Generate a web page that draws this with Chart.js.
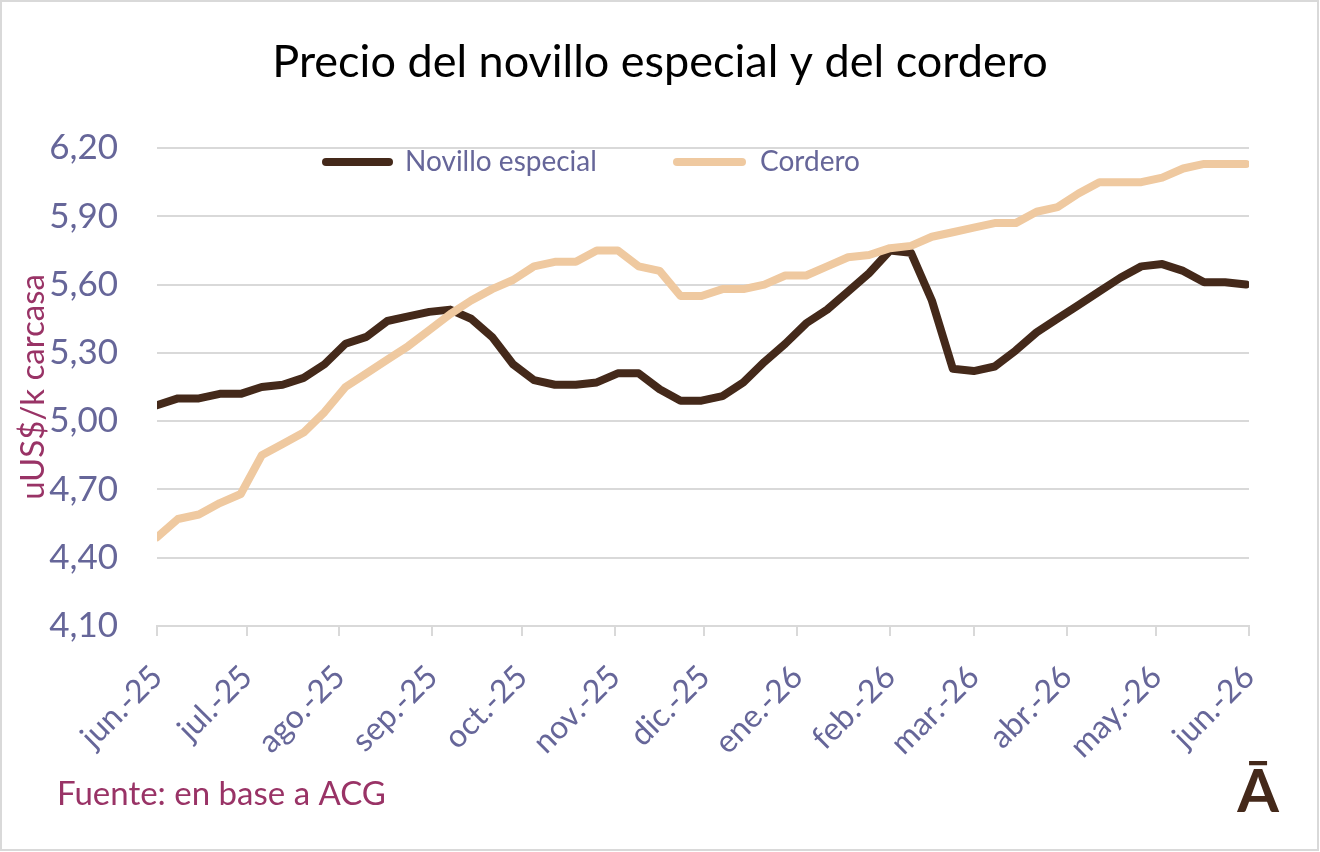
<!DOCTYPE html>
<html>
<head>
<meta charset="utf-8">
<script src="https://cdn.jsdelivr.net/npm/chart.js@4.4.1/dist/chart.umd.min.js"></script>
<style>
  html, body { margin: 0; padding: 0; background: #fff; }
  #wrap { width: 1320px; height: 852px; position: relative; }
</style>
</head>
<body>
<div id="wrap"><canvas id="myChart" width="1320" height="852"></canvas></div>
<script>
// semanas (fecha de cada dato)
const semanas = [
  '2025-06-01','2025-06-08','2025-06-15','2025-06-22','2025-06-29',
  '2025-07-06','2025-07-13','2025-07-20','2025-07-27',
  '2025-08-03','2025-08-10','2025-08-17','2025-08-24','2025-08-31',
  '2025-09-07','2025-09-14','2025-09-21','2025-09-28',
  '2025-10-05','2025-10-12','2025-10-19','2025-10-26',
  '2025-11-02','2025-11-09','2025-11-16','2025-11-23','2025-11-30',
  '2025-12-07','2025-12-14','2025-12-21','2025-12-28',
  '2026-01-04','2026-01-11','2026-01-18','2026-01-25',
  '2026-02-01','2026-02-08','2026-02-15','2026-02-22',
  '2026-03-01','2026-03-08','2026-03-15','2026-03-22','2026-03-29',
  '2026-04-05','2026-04-12','2026-04-19','2026-04-26',
  '2026-05-03','2026-05-10','2026-05-17','2026-05-24','2026-05-31'
];

const novillo = [
  5.07, 5.10, 5.10, 5.12, 5.12, 5.15, 5.16, 5.19, 5.25, 5.34,
  5.37, 5.44, 5.46, 5.48, 5.49, 5.45, 5.37, 5.25, 5.18, 5.16,
  5.16, 5.17, 5.21, 5.21, 5.14, 5.09, 5.09, 5.11, 5.17, 5.26,
  5.34, 5.43, 5.49, 5.57, 5.65, 5.75, 5.74, 5.53, 5.23, 5.22,
  5.24, 5.31, 5.39, 5.45, 5.51, 5.57, 5.63, 5.68, 5.69, 5.66,
  5.61, 5.61, 5.60
];

const cordero = [
  4.49, 4.57, 4.59, 4.64, 4.68, 4.85, 4.90, 4.95, 5.04, 5.15,
  5.21, 5.27, 5.33, 5.40, 5.47, 5.53, 5.58, 5.62, 5.68, 5.70,
  5.70, 5.75, 5.75, 5.68, 5.66, 5.55, 5.55, 5.58, 5.58, 5.60,
  5.64, 5.64, 5.68, 5.72, 5.73, 5.76, 5.77, 5.81, 5.83, 5.85,
  5.87, 5.87, 5.92, 5.94, 6.00, 6.05, 6.05, 6.05, 6.07, 6.11,
  6.13, 6.13, 6.13
];

// marcas del eje x (inicio de cada mes)
const meses = [
  '2025-06-01','2025-07-01','2025-08-01','2025-09-01','2025-10-01','2025-11-01',
  '2025-12-01','2026-01-01','2026-02-01','2026-03-01','2026-04-01','2026-05-01','2026-06-01'
];
const etiquetasMes = [
  'jun.-25','jul.-25','ago.-25','sep.-25','oct.-25','nov.-25',
  'dic.-25','ene.-26','feb.-26','mar.-26','abr.-26','may.-26','jun.-26'
];
const ticksY = [4.10, 4.40, 4.70, 5.00, 5.30, 5.60, 5.90, 6.20];

const inicio = Date.parse(meses[0]);
const dia = s => (Date.parse(s) - inicio) / 86400000;
const diasMes = meses.map(dia);

const FUENTE = "Lato, 'Open Sans', sans-serif";
const AZUL = '#666699';
const MAGENTA = '#993366';
const GRIS = '#D9D9D9';

const puntos = arr => arr.map((v, i) => ({ x: dia(semanas[i]), y: v }));

// titulo, leyenda dentro del area, fuente y logo
const extras = {
  id: 'extras',
  afterDraw(chart) {
    const c = chart.ctx;
    c.save();
    // titulo
    c.fillStyle = '#000';
    c.font = '45px ' + FUENTE;
    c.textAlign = 'center';
    c.textBaseline = 'middle';
    c.fillText('Precio del novillo especial y del cordero', 660, 62);
    // leyenda
    const pos = [{ x0: 326, x1: 389, tx: 405 }, { x0: 677, x1: 742, tx: 760 }];
    chart.data.datasets.forEach((ds, i) => {
      const p = pos[i];
      c.strokeStyle = ds.borderColor;
      c.lineWidth = 8;
      c.lineCap = 'round';
      c.beginPath();
      c.moveTo(p.x0, 162);
      c.lineTo(p.x1, 162);
      c.stroke();
      c.fillStyle = AZUL;
      c.font = '28px ' + FUENTE;
      c.textBaseline = 'middle';
      c.textAlign = 'left';
      c.fillText(ds.label, p.tx, 162);
    });
    // fuente
    c.fillStyle = MAGENTA;
    c.font = '33px ' + FUENTE;
    c.textBaseline = 'middle';
    c.textAlign = 'left';
    c.fillText('Fuente: en base a ACG', 57, 794);
    // logo
    c.fillStyle = '#44291A';
    c.font = 'bold 60px ' + FUENTE;
    c.textAlign = 'center';
    c.textBaseline = 'alphabetic';
    c.fillText('Ā', 1258, 812);
    // borde
    c.strokeStyle = GRIS;
    c.lineWidth = 2;
    c.strokeRect(1, 1, 1317, 849);
    c.restore();
  }
};

const ctx = document.getElementById('myChart');

const myChart = new Chart(ctx, {
  type: 'line',
  data: {
    datasets: [{
      label: 'Novillo especial',
      data: puntos(novillo),
      borderColor: '#44291A',
      backgroundColor: '#44291A',
      borderWidth: 8,
      pointRadius: 0,
      tension: 0,
      order: 1,
      borderJoinStyle: 'round',
      borderCapStyle: 'round'
    }, {
      label: 'Cordero',
      data: puntos(cordero),
      borderColor: '#EFC9A0',
      backgroundColor: '#EFC9A0',
      borderWidth: 8,
      pointRadius: 0,
      tension: 0,
      order: 0,
      borderJoinStyle: 'round',
      borderCapStyle: 'round'
    }]
  },
  options: {
    responsive: false,
    animation: false,
    layout: { padding: { left: 0, right: 71, top: 148, bottom: 0 } },
    plugins: {
      legend: { display: false },
      tooltip: { enabled: false },
      title: { display: false }
    },
    scales: {
      x: {
        type: 'linear',
        min: 0,
        max: diasMes[diasMes.length - 1],
        afterBuildTicks: s => { s.ticks = diasMes.map(v => ({ value: v })); },
        afterFit: s => { s.height = 226; },
        ticks: {
          autoSkip: false,
          minRotation: 45,
          maxRotation: 45,
          padding: 22,
          color: AZUL,
          font: { family: FUENTE, size: 32 },
          callback: v => etiquetasMes[diasMes.indexOf(v)]
        },
        grid: { drawOnChartArea: false, drawTicks: true, tickLength: 10, color: GRIS, lineWidth: 2 },
        border: { display: true, color: GRIS, width: 2 }
      },
      y: {
        min: 4.10,
        max: 6.20,
        afterBuildTicks: s => { s.ticks = ticksY.map(v => ({ value: v })); },
        afterFit: s => { s.width = 157; },
        ticks: {
          padding: 39,
          color: AZUL,
          font: { family: FUENTE, size: 35 },
          callback: v => v.toFixed(2).replace('.', ',')
        },
        grid: { drawTicks: false, color: GRIS, lineWidth: 2 },
        border: { display: false },
        title: {
          display: true,
          text: 'uUS$/k carcasa',
          color: MAGENTA,
          font: { family: FUENTE, size: 33 },
          padding: { top: 14, bottom: 0 }
        }
      }
    }
  },
  plugins: [extras]
});
</script>
</body>
</html>
